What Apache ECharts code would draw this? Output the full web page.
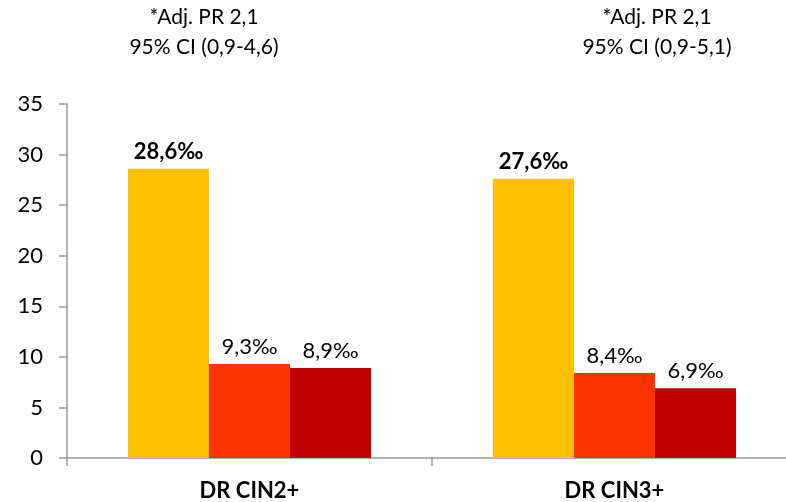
<!DOCTYPE html>
<html>
<head>
<meta charset="utf-8">
<script src="https://cdn.jsdelivr.net/npm/echarts@6/dist/echarts.min.js"></script>
<style>
  html, body { margin: 0; padding: 0; background: #fff; }
  #chart { width: 786px; height: 502px; }
</style>
</head>
<body>
<div id="chart"></div>
<script>
const categories = ['DR CIN2+', 'DR CIN3+'];
const seriesA = [28.6, 27.6];
const seriesB = [9.3, 8.4];
const seriesC = [8.9, 6.9];
const yTicks = [0, 35, 5]; // min, max, interval
const notes = [
  ['*Adj. PR 2,1', '95% CI (0,9-4,6)'],
  ['*Adj. PR 2,1', '95% CI (0,9-5,1)']
];

const font = 'Lato, "Open Sans", sans-serif';
const fmt = p => p.value.toFixed(1).replace('.', ',') + '‰';

const myChart = echarts.init(document.getElementById('chart'));

const barSeries = (data, color, bold) => ({
  type: 'bar',
  data: data,
  barGap: '0%',
  barCategoryGap: '33.4%',
  itemStyle: { color: color },
  label: {
    show: true,
    position: 'top',
    distance: 6,
    formatter: fmt,
    color: '#000',
    fontSize: 22,
    fontWeight: bold ? 'bold' : 'normal',
    fontFamily: font
  }
});

const noteGraphics = [];
const noteX = [204, 657];
notes.forEach((lines, i) => {
  lines.forEach((t, j) => {
    noteGraphics.push({
      type: 'text',
      x: noteX[i],
      y: 17 + j * 30,
      style: {
        text: t,
        fill: '#000',
        font: '21px ' + font,
        textAlign: 'center',
        textVerticalAlign: 'middle'
      }
    });
  });
});

myChart.setOption({
  animation: false,
  grid: { left: 67, top: 104, width: 730, bottom: 44, outerBoundsMode: 'none', containLabel: false },
  xAxis: {
    type: 'category',
    data: categories,
    axisLine: { lineStyle: { color: '#9a9a9a', width: 1.5 } },
    axisTick: { show: true, length: 8, lineStyle: { color: '#9a9a9a', width: 1.5 } },
    axisLabel: {
      color: '#000',
      fontSize: 22,
      fontWeight: 'bold',
      fontFamily: font,
      margin: 22
    }
  },
  yAxis: {
    type: 'value',
    min: yTicks[0],
    max: yTicks[1],
    interval: yTicks[2],
    axisLine: { show: true, lineStyle: { color: '#9a9a9a', width: 1.5 } },
    axisTick: { show: true, length: 8, lineStyle: { color: '#9a9a9a', width: 1.5 } },
    splitLine: { show: false },
    axisLabel: {
      color: '#000',
      fontSize: 22,
      fontFamily: font,
      margin: 24
    }
  },
  series: [
    barSeries(seriesA, '#FFC000', true),
    barSeries(seriesB, '#FF3300', false),
    barSeries(seriesC, '#C00000', false)
  ],
  graphic: noteGraphics
});
</script>
</body>
</html>
